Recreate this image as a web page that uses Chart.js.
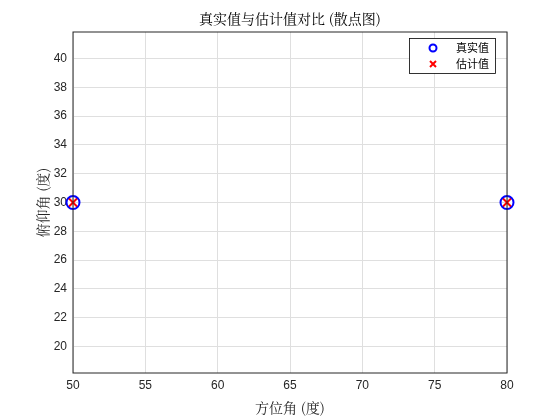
<!DOCTYPE html>
<html><head><meta charset="utf-8">
<script src="https://cdn.jsdelivr.net/npm/chart.js@4/dist/chart.umd.min.js"></script>
<style>body{margin:0;background:#fff}#w{width:560px;height:420px}</style>
</head><body><div id="w"><canvas id="c" width="560" height="420"></canvas></div>
<script>
const trueX=[50,80], trueY=[30,30];
const estX=[50,80], estY=[30,30];
const xTicks=[50,55,60,65,70,75,80];
const yTicks=[20,22,24,26,28,30,32,34,36,38,40];
const labels=['真实值','估计值'];
const legendPlugin={id:'lg',afterDraw(ch){
 const c=ch.ctx,a=ch.chartArea;
 const x0=a.right-98,y0=a.top+6,w=86,h=35;
 c.save();c.fillStyle='#fff';c.strokeStyle='#000';c.lineWidth=0.8;
 c.fillRect(x0,y0,w,h);c.strokeRect(x0+0.5,y0+0.5,w,h);
 c.font='11px "Noto Sans CJK SC"';c.fillStyle='#000';c.textBaseline='middle';
 c.lineWidth=2;c.strokeStyle='#0000ff';c.beginPath();c.arc(x0+24,y0+10,3.5,0,Math.PI*2);c.stroke();
 c.strokeStyle='#ff0000';c.beginPath();c.moveTo(x0+21,y0+23);c.lineTo(x0+27,y0+29);c.moveTo(x0+27,y0+23);c.lineTo(x0+21,y0+29);c.stroke();
 c.fillText(labels[0],x0+47,y0+10);c.fillText(labels[1],x0+47,y0+26);
 c.strokeStyle='#262626';c.lineWidth=1;c.strokeRect(a.left,a.top,a.right-a.left,a.bottom-a.top);
 c.restore();}};
new Chart(document.getElementById('c'),{type:'scatter',
data:{datasets:[
 {label:labels[0],data:trueX.map((x,i)=>({x,y:trueY[i]})),pointStyle:'circle',pointRadius:6.5,borderColor:'#0000ff',backgroundColor:'rgba(0,0,0,0)',borderWidth:2},
 {label:labels[1],data:estX.map((x,i)=>({x,y:estY[i]})),pointStyle:'crossRot',pointRadius:6,borderColor:'#ff0000',borderWidth:2}]},
options:{responsive:false,animation:false,clip:false,
 layout:{padding:{top:32,right:53,bottom:0,left:30}},
 plugins:{legend:{display:false},tooltip:{enabled:false},
  title:{display:false}},
 scales:{
  x:{type:'linear',min:50,max:80,afterBuildTicks(s){s.ticks=xTicks.map(v=>({value:v}))},
   afterFit(s){s.height=47},
   grid:{color:'#dfdfdf',drawTicks:false},border:{display:false},
   ticks:{padding:5,color:'#262626',font:{family:'Liberation Sans',size:12}},
   title:{display:true,text:'方位角 (度)',color:'#262626',padding:{top:2},font:{family:'Noto Serif CJK SC, Noto Sans CJK SC',size:14}}},
  y:{type:'linear',min:18.15,max:41.85,afterBuildTicks(s){s.ticks=yTicks.map(v=>({value:v}))},
   afterFit(s){s.width=43},
   grid:{color:'#dfdfdf',drawTicks:false},border:{display:false},
   ticks:{padding:6,color:'#262626',font:{family:'Liberation Sans',size:12}},
   title:{display:true,text:'俯仰角 (度)',color:'#262626',padding:{bottom:0},font:{family:'Noto Serif CJK SC, Noto Sans CJK SC',size:14}}}}},
plugins:[legendPlugin,{id:'t',afterDraw(ch){const c=ch.ctx;c.save();c.font='14px "Noto Serif CJK SC","Noto Sans CJK SC"';c.fillStyle='#000';c.textAlign='center';c.textBaseline='middle';c.fillText('真实值与估计值对比 (散点图)',290,19);c.restore();}}]
});
</script></body></html>
